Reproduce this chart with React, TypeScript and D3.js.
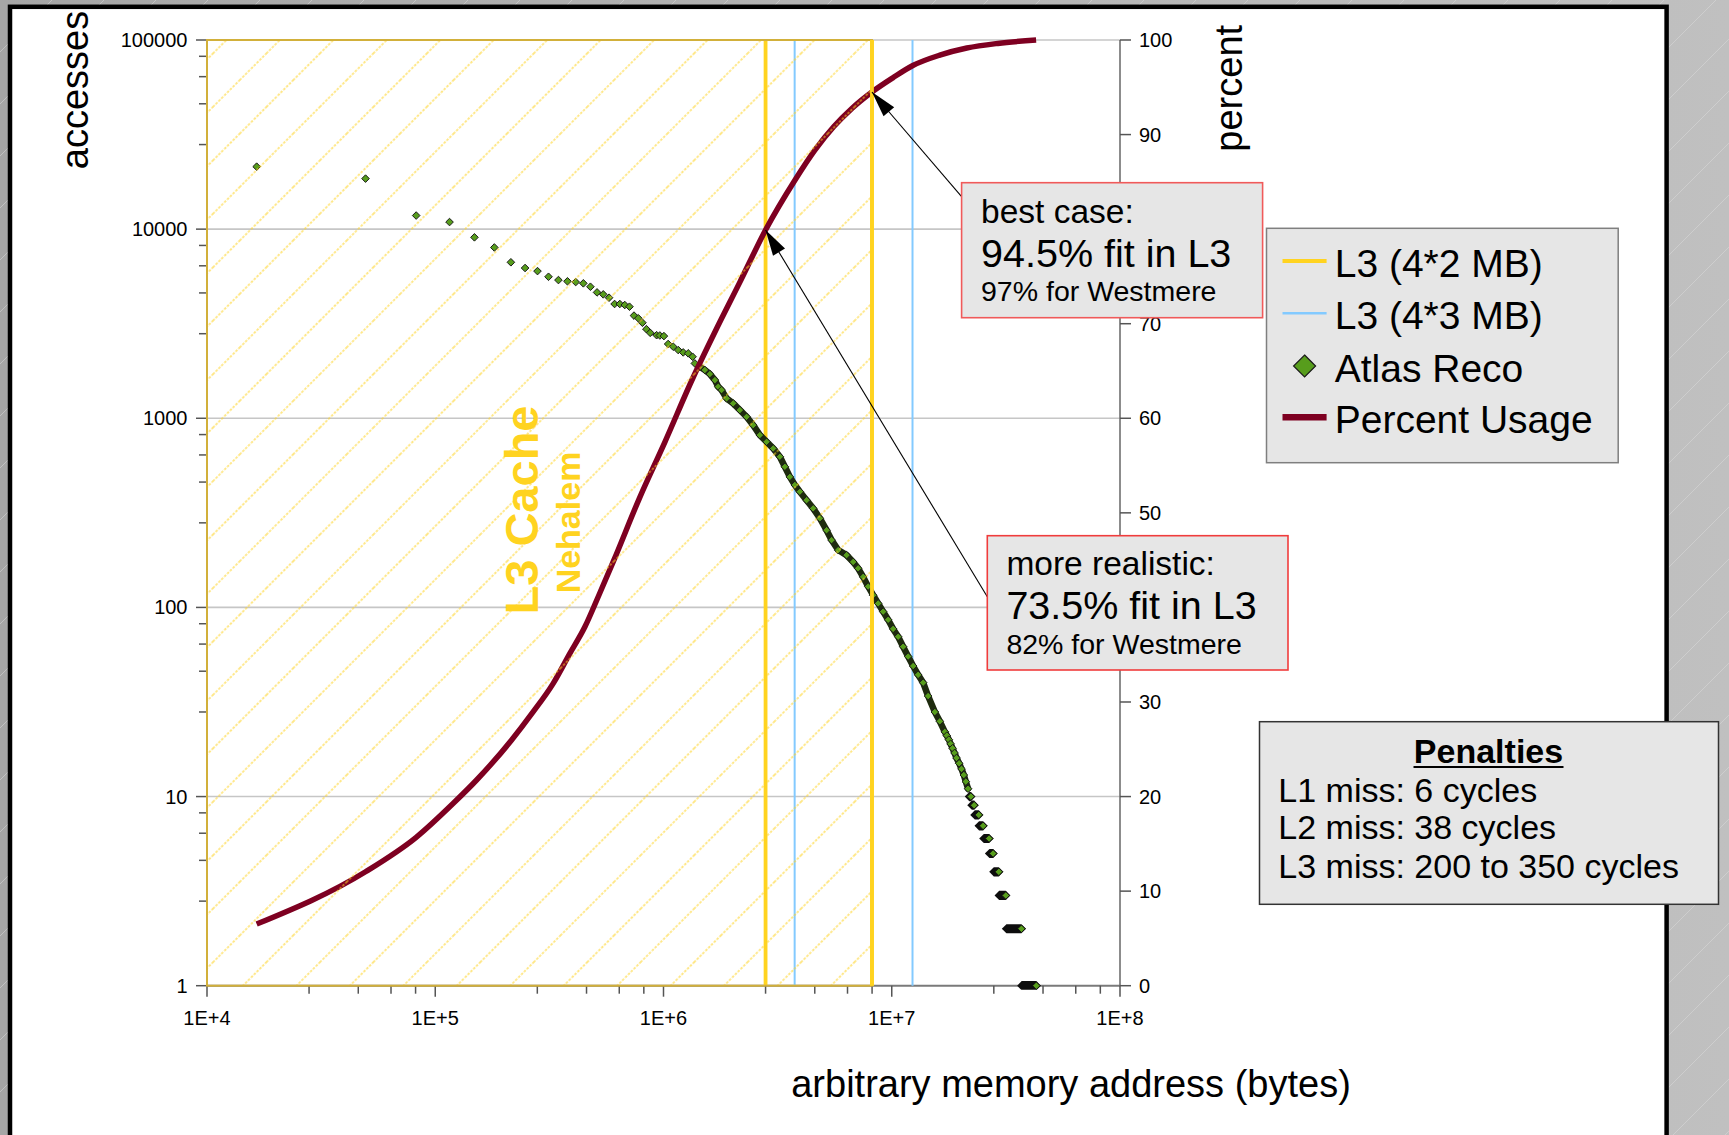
import React from 'react';
import * as d3 from 'd3';

const WIDTH = 1729;
const HEIGHT = 1135;
const FONT = "'Liberation Sans', Arial, Helvetica, sans-serif";

// Cache boundaries (bytes): Nehalem L3 and Westmere L3
const l3Nehalem = [2.8e6, 8.19e6];
const l3Westmere = [3.755e6, 12.33e6];

// Atlas Reco: accesses per address block (well separated samples)
const sparseAddress = [
  16.5e3, 49.5e3, 82.5e3, 115.5e3, 148.5e3, 181.5e3, 214.5e3, 247.5e3, 280.5e3, 313.5e3,
  346.5e3, 379.5e3, 412.5e3, 445.5e3, 478.5e3, 511.5e3, 544.5e3, 577.5e3, 610.5e3, 643.5e3,
  676.5e3, 709.5e3, 742.5e3, 775.5e3, 808.5e3, 841.5e3, 874.5e3,
];
const sparseAccesses = [
  21400, 18500, 11800, 10900, 9050, 8000, 6680, 6230, 6000, 5600,
  5380, 5300, 5250, 5170, 4960, 4630, 4520, 4340, 4020, 4020,
  3970, 3890, 3490, 3380, 3200, 2960, 2830,
];

// Atlas Reco: densely packed samples
const denseAddress = [
  933e3, 964e3, 1.004e6, 1.048e6, 1.103e6, 1.16e6, 1.22e6, 1.283e6, 1.341e6, 1.372e6,
  1.443e6, 1.518e6, 1.597e6, 1.68e6, 1.737e6, 1.797e6, 1.89e6, 2.02e6, 2.161e6, 2.312e6,
  2.471e6, 2.644e6, 2.829e6, 3.024e6, 3.235e6, 3.402e6, 3.578e6, 3.763e6, 3.958e6, 4.235e6,
  4.526e6, 4.843e6, 5.181e6, 5.45e6, 5.825e6, 6.339e6, 6.775e6, 7.125e6, 7.494e6, 7.882e6,
  8.29e6, 8.719e6, 9.17e6, 9.643e6, 10.14e6, 10.67e6, 11.22e6, 11.8e6, 12.41e6, 13.05e6,
  13.73e6, 14.43e6, 15.45e6, 16.24e6, 17.08e6, 17.43e6, 17.79e6, 18.1e6, 18.47e6, 18.84e6,
  19.22e6, 19.73e6, 20.22e6, 20.69e6, 21.11e6, 21.6e6,
];
const denseAccesses = [
  2750, 2740, 2720, 2470, 2390, 2295, 2230, 2205, 2115, 1950,
  1870, 1800, 1713, 1592, 1468, 1410, 1274, 1199, 1105, 1018,
  920, 815, 751, 693, 626, 554, 490, 444, 409, 369,
  334, 296, 256, 227, 201, 189, 174, 161, 145, 129,
  116, 105, 95, 86, 77, 70, 62, 55, 49, 44,
  40, 34, 28, 25, 22, 21, 20, 19, 18, 17,
  16, 15, 14, 13, 12, 11,
];

// Atlas Reco: runs of blocks sharing the same small access count
const runAccesses = [10, 9, 8, 7, 6, 5, 4, 3, 2, 1];
const runStart = [21.88e6, 22.44e6, 23.12e6, 24.14e6, 25.31e6, 26.8e6, 28.0e6, 29.55e6, 31.8e6, 37.1e6];
const runEnd = [22.21e6, 22.96e6, 24.07e6, 25.14e6, 26.7e6, 27.8e6, 29.45e6, 31.6e6, 37.0e6, 43.0e6];

// Cumulative share of accesses (percent)
const percentAddress = [
  16.5e3, 49.5e3, 82.5e3, 120e3, 151.8e3, 216.1e3, 268.8e3, 328.8e3, 389e3, 452.6e3,
  517.6e3, 606.3e3, 788.2e3, 1.014e6, 1.345e6, 1.68e6, 2.161e6, 2.8e6, 3.764e6, 4.604e6,
  5.577e6, 6.687e6, 8.19e6, 10.11e6, 12.37e6, 16.24e6, 21.33e6, 29.16e6, 42.9e6,
];
const percentUsage = [
  6.52, 12.05, 15.69, 19.29, 21.75, 25.98, 28.97, 31.97, 35.14, 37.95,
  41.13, 45.0, 51.67, 57.49, 64.26, 69.13, 74.4, 79.91, 85.17, 88.35,
  90.85, 92.76, 94.5, 96.0, 97.3, 98.4, 99.15, 99.64, 100,
];

// Axis ticks
const xMajorTicks = [1e4, 1e5, 1e6, 1e7, 1e8];
const xTickLabels = ['1E+4', '1E+5', '1E+6', '1E+7', '1E+8'];
const accMajorTicks = [1, 10, 100, 1000, 10000, 100000];
const accTickLabels = ['1', '10', '100', '1000', '10000', '100000'];
const pctTicks = [0, 10, 20, 30, 40, 50, 60, 70, 80, 90, 100];
const minorMantissas = [2.8, 4.6, 6.4, 8.2];

const legendLabels = ['L3 (4*2 MB)', 'L3 (4*3 MB)', 'Atlas Reco', 'Percent Usage'];
const penaltyLines = ['L1 miss: 6 cycles', 'L2 miss: 38 cycles', 'L3 miss: 200 to 350 cycles'];

const COLORS = {
  yellow: '#FFD320',
  blue: '#83CAFF',
  green: '#579D1C',
  maroon: '#7E0021',
  hatchBorder: '#D2B03A',
  grid: '#C6C6C6',
  axis: '#666666',
  box: '#E6E6E6',
};

const PLOT = { left: 207, right: 1120, top: 40, bottom: 985.7 };

function diamond(cx: number, cy: number, r: number) {
  return `M${cx},${cy - r}L${cx + r},${cy}L${cx},${cy + r}L${cx - r},${cy}Z`;
}

function arrowHead(tx: number, ty: number, sx: number, sy: number, len: number, half: number) {
  const dx = tx - sx;
  const dy = ty - sy;
  const d = Math.hypot(dx, dy);
  const ux = dx / d;
  const uy = dy / d;
  const bx = tx - ux * len;
  const by = ty - uy * len;
  return `M${tx},${ty}L${bx - uy * half},${by + ux * half}L${bx + uy * half},${by - ux * half}Z`;
}

export default function App() {
  const x = d3.scaleLog().domain([1e4, 1e8]).range([PLOT.left, PLOT.right]);
  const yAcc = d3.scaleLog().domain([1, 1e5]).range([PLOT.bottom, PLOT.top]);
  const yPct = d3.scaleLinear().domain([0, 100]).range([PLOT.bottom, PLOT.top]);

  const xMinor = xMajorTicks.slice(0, -1).flatMap((d) => minorMantissas.map((m) => m * d));
  const accMinor = accMajorTicks.slice(0, -1).flatMap((d) => minorMantissas.map((m) => m * d));

  const points: [number, number][] = [
    ...sparseAddress.map((a, i) => [a, sparseAccesses[i]] as [number, number]),
    ...denseAddress.map((a, i) => [a, denseAccesses[i]] as [number, number]),
  ];
  const bandPoints = denseAddress
    .map((a, i) => [a, denseAccesses[i]] as [number, number])
    .filter((d) => d[0] >= 1.4e6);
  const bandPath = d3
    .line<[number, number]>()
    .x((d) => x(d[0]))
    .y((d) => yAcc(d[1]))(bandPoints) as string;

  const pctPath = d3
    .line<[number, number]>()
    .x((d) => x(d[0]))
    .y((d) => yPct(d[1]))
    .curve(d3.curveMonotoneX)(percentAddress.map((a, i) => [a, percentUsage[i]] as [number, number])) as string;

  const hatchRight = x(l3Nehalem[1]);
  const mr = 3.8;

  // annotation arrows: text boxes point at the usage curve on the L3 lines
  const bestTip = [x(l3Nehalem[1]), yPct(percentUsage[percentAddress.indexOf(l3Nehalem[1])])];
  const realTip = [x(l3Nehalem[0]), yPct(percentUsage[percentAddress.indexOf(l3Nehalem[0])])];
  const bestFrom = [961.6, 196.7];
  const realFrom = [987.3, 596.7];

  const legendX = 1266.5;
  const legendY = 228.3;
  const legendRows = [261, 313.3, 366, 417.3];

  return (
    <div style={{ position: 'absolute', left: 0, top: 0 }}>
      <svg width={WIDTH} height={HEIGHT} style={{ display: 'block' }} fontFamily={FONT}>
        <defs>
          <linearGradient id="bgGrad" x1="0" y1="0" x2="1" y2="0">
            <stop offset="0" stopColor="#a6a6a6" />
            <stop offset="1" stopColor="#c0c0c0" />
          </linearGradient>
          <pattern id="bgLines" patternUnits="userSpaceOnUse" width={52} height={52}>
            <line x1={0} y1={52} x2={52} y2={0} stroke="#d8d8d8" strokeWidth={1} opacity={0.55} />
          </pattern>
          <pattern
            id="hatch"
            patternUnits="userSpaceOnUse"
            width={37.8}
            height={37.8}
            patternTransform="rotate(45) translate(18.3,0)"
          >
            <line x1={18.9} y1={0} x2={18.9} y2={37.8} stroke={COLORS.yellow} strokeWidth={1.5} strokeDasharray="2.5 1.5" />
          </pattern>
          <clipPath id="plotClip">
            <rect x={PLOT.left} y={PLOT.top - 4} width={PLOT.right - PLOT.left} height={PLOT.bottom - PLOT.top + 8} />
          </clipPath>
        </defs>

        {/* page background and white panel */}
        <rect x={0} y={0} width={WIDTH} height={HEIGHT} fill="url(#bgGrad)" />
        <rect x={0} y={0} width={WIDTH} height={HEIGHT} fill="url(#bgLines)" />
        <rect x={10} y={6.8} width={1656.6} height={1200} fill="#ffffff" stroke="#000" strokeWidth={4.5} />

        {/* horizontal gridlines */}
        {accMajorTicks.slice(1).map((v) => (
          <line key={`g${v}`} x1={PLOT.left} x2={PLOT.right} y1={yAcc(v)} y2={yAcc(v)} stroke={COLORS.grid} strokeWidth={1.6} />
        ))}

        {/* axes */}
        <line x1={PLOT.left} x2={PLOT.right} y1={PLOT.bottom} y2={PLOT.bottom} stroke="#7a7a7a" strokeWidth={2} />
        <line x1={PLOT.left} x2={PLOT.left} y1={PLOT.top} y2={PLOT.bottom} stroke={COLORS.axis} strokeWidth={1.5} />
        <line x1={PLOT.right} x2={PLOT.right} y1={PLOT.top} y2={PLOT.bottom} stroke={COLORS.axis} strokeWidth={1.5} />

        {/* x ticks */}
        {xMajorTicks.map((v, i) => (
          <g key={`xt${v}`}>
            <line x1={x(v)} x2={x(v)} y1={PLOT.bottom} y2={PLOT.bottom + 11} stroke="#555" strokeWidth={1.5} />
            <text x={x(v)} y={PLOT.bottom + 39} fontSize={20} textAnchor="middle" fill="#000">
              {xTickLabels[i]}
            </text>
          </g>
        ))}
        {xMinor.map((v) => (
          <line key={`xm${v}`} x1={x(v)} x2={x(v)} y1={PLOT.bottom} y2={PLOT.bottom + 8} stroke="#555" strokeWidth={1.5} />
        ))}

        {/* left (accesses) ticks */}
        {accMajorTicks.map((v, i) => (
          <g key={`yt${v}`}>
            <line x1={PLOT.left - 11} x2={PLOT.left} y1={yAcc(v)} y2={yAcc(v)} stroke="#555" strokeWidth={1.5} />
            <text x={PLOT.left - 19.5} y={yAcc(v) + 7} fontSize={20} textAnchor="end" fill="#000">
              {accTickLabels[i]}
            </text>
          </g>
        ))}
        {accMinor.map((v) => (
          <line key={`ym${v}`} x1={PLOT.left - 8} x2={PLOT.left} y1={yAcc(v)} y2={yAcc(v)} stroke="#555" strokeWidth={1.5} />
        ))}

        {/* right (percent) ticks */}
        {pctTicks.map((v) => (
          <g key={`pt${v}`}>
            <line x1={PLOT.right} x2={PLOT.right + 11} y1={yPct(v)} y2={yPct(v)} stroke="#555" strokeWidth={1.5} />
            <text x={PLOT.right + 19} y={yPct(v) + 7} fontSize={20} fill="#000">
              {v}
            </text>
          </g>
        ))}

        {/* cache boundary lines */}
        {l3Westmere.map((v) => (
          <line key={`w${v}`} x1={x(v)} x2={x(v)} y1={PLOT.top} y2={PLOT.bottom} stroke={COLORS.blue} strokeWidth={2} />
        ))}
        {l3Nehalem.map((v) => (
          <line key={`n${v}`} x1={x(v)} x2={x(v)} y1={PLOT.top} y2={PLOT.bottom} stroke={COLORS.yellow} strokeWidth={3.8} />
        ))}

        {/* Atlas Reco scatter */}
        <g clipPath="url(#plotClip)">
          <path d={bandPath} fill="none" stroke="#1e2b0e" strokeWidth={6.5} strokeLinejoin="round" strokeLinecap="round" />
          {points.map((d, i) => (
            <path key={`p${i}`} d={diamond(x(d[0]), yAcc(d[1]), mr)} fill={COLORS.green} stroke="#1a1a1a" strokeWidth={1} />
          ))}
          {runAccesses.map((v, i) => {
            const x0 = x(runStart[i]);
            const x1 = x(runEnd[i]);
            const yy = yAcc(v);
            const r = mr + 0.8;
            return (
              <g key={`r${v}`}>
                <path
                  d={`M${x0 - r},${yy}L${x0},${yy - r}L${x1},${yy - r}L${x1 + r},${yy}L${x1},${yy + r}L${x0},${yy + r}Z`}
                  fill="#0d0d0d"
                />
                <path d={diamond(x1, yy, mr)} fill={COLORS.green} stroke="#111" strokeWidth={1} />
              </g>
            );
          })}
        </g>

        {/* percent usage curve */}
        <path d={pctPath} fill="none" stroke={COLORS.maroon} strokeWidth={5.5} strokeLinejoin="round" />

        {/* hatched L3 region */}
        <rect
          x={PLOT.left}
          y={PLOT.top}
          width={hatchRight - PLOT.left}
          height={PLOT.bottom - PLOT.top}
          fill="url(#hatch)"
          opacity={0.7}
        />
        <rect
          x={PLOT.left}
          y={PLOT.top}
          width={hatchRight - PLOT.left}
          height={PLOT.bottom - PLOT.top}
          fill="none"
          stroke={COLORS.hatchBorder}
          strokeWidth={2}
        />
        <line x1={hatchRight} x2={hatchRight} y1={PLOT.top} y2={PLOT.bottom} stroke={COLORS.yellow} strokeWidth={3.8} />

        <text transform="translate(538,510) rotate(-90)" textAnchor="middle" fontSize={47} fontWeight="bold" fill={COLORS.yellow}>
          L3 Cache
        </text>
        <text transform="translate(580,522.5) rotate(-90)" textAnchor="middle" fontSize={34} fontWeight="bold" fill={COLORS.yellow}>
          Nehalem
        </text>

        {/* axis titles */}
        <text transform="translate(88,90) rotate(-90)" textAnchor="middle" fontSize={38} fill="#000">
          accesses
        </text>
        <text transform="translate(1242,88.3) rotate(-90)" textAnchor="middle" fontSize={38} fill="#000">
          percent
        </text>
        <text x={1071} y={1097} textAnchor="middle" fontSize={38} fill="#000">
          arbitrary memory address (bytes)
        </text>

        {/* annotation arrows */}
        <line x1={bestFrom[0]} y1={bestFrom[1]} x2={bestTip[0]} y2={bestTip[1]} stroke="#000" strokeWidth={1.1} />
        <path d={arrowHead(bestTip[0], bestTip[1], bestFrom[0], bestFrom[1], 26, 7)} fill="#000" />
        <line x1={realFrom[0]} y1={realFrom[1]} x2={realTip[0]} y2={realTip[1]} stroke="#000" strokeWidth={1.1} />
        <path d={arrowHead(realTip[0], realTip[1], realFrom[0], realFrom[1], 26, 7)} fill="#000" />

        {/* best case box */}
        <rect x={961.6} y={182.7} width={301} height={135} fill={COLORS.box} stroke="#F05A5A" strokeWidth={1.6} />
        <text x={981} y={222.7} fontSize={33.5} fill="#000">best case:</text>
        <text x={981} y={266.7} fontSize={39.5} fill="#000">94.5% fit in L3</text>
        <text x={981} y={301} fontSize={28.5} fill="#000">97% for Westmere</text>

        {/* more realistic box */}
        <rect x={987.3} y={535.7} width={300.7} height={134.3} fill={COLORS.box} stroke="#F03C3C" strokeWidth={1.6} />
        <text x={1006.4} y={575} fontSize={33.5} fill="#000">more realistic:</text>
        <text x={1006.4} y={619} fontSize={39.5} fill="#000">73.5% fit in L3</text>
        <text x={1006.4} y={654.3} fontSize={28.5} fill="#000">82% for Westmere</text>

        {/* legend */}
        <rect x={legendX} y={legendY} width={351.7} height={234.4} fill={COLORS.box} stroke="#7f7f7f" strokeWidth={1.5} />
        <line x1={1282.5} x2={1326.6} y1={legendRows[0]} y2={legendRows[0]} stroke={COLORS.yellow} strokeWidth={4} />
        <line x1={1282.5} x2={1326.6} y1={legendRows[1]} y2={legendRows[1]} stroke={COLORS.blue} strokeWidth={2.5} />
        <path d={diamond(1304.6, legendRows[2], 11)} fill={COLORS.green} stroke="#1a1a1a" strokeWidth={1.2} />
        <line x1={1282.5} x2={1326.6} y1={legendRows[3]} y2={legendRows[3]} stroke={COLORS.maroon} strokeWidth={6.5} />
        {legendLabels.map((t, i) => (
          <text key={t} x={1334.7} y={legendRows[i] + 16} fontSize={39} fill="#000">
            {t}
          </text>
        ))}

        {/* penalties box */}
        <rect x={1259.5} y={721.7} width={459} height={182.6} fill={COLORS.box} stroke="#333" strokeWidth={1.5} />
        <text x={1488.5} y={762.7} textAnchor="middle" fontSize={34} fontWeight="bold" fill="#000">
          Penalties
        </text>
        <line x1={1413.5} x2={1563.5} y1={767} y2={767} stroke="#000" strokeWidth={2} />
        {penaltyLines.map((t, i) => (
          <text key={t} x={1278.3} y={[801.7, 839.3, 878.3][i]} fontSize={34} fill="#000">
            {t}
          </text>
        ))}
      </svg>
    </div>
  );
}
